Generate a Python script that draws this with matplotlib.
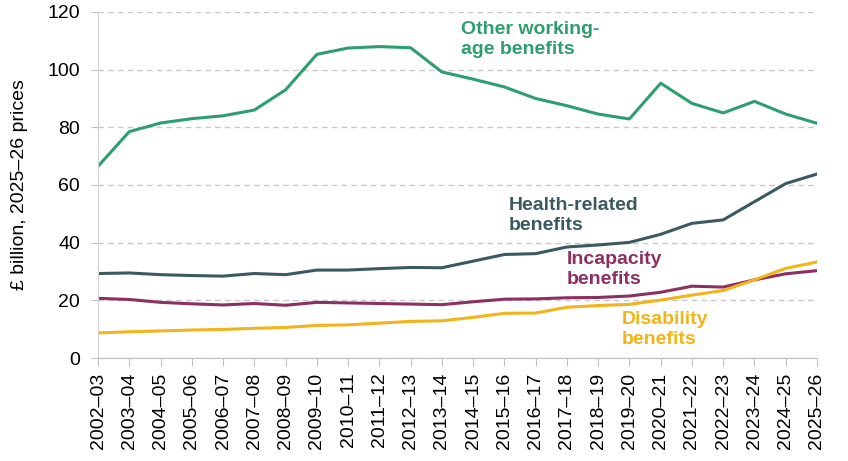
import numpy as np
import matplotlib.pyplot as plt

plt.rcParams['font.family'] = ['Liberation Sans', 'DejaVu Sans']

years = ['2002–03', '2003–04', '2004–05', '2005–06', '2006–07', '2007–08',
         '2008–09', '2009–10', '2010–11', '2011–12', '2012–13', '2013–14',
         '2014–15', '2015–16', '2016–17', '2017–18', '2018–19', '2019–20',
         '2020–21', '2021–22', '2022–23', '2023–24', '2024–25', '2025–26']

other = [66.5, 78.5, 81.5, 83, 84, 86, 93, 105.3, 107.5, 108, 107.6, 99.2,
         96.7, 94, 90, 87.5, 84.6, 82.9, 95.3, 88.3, 85, 89, 84.6, 81.4]
health = [29.3, 29.5, 28.9, 28.6, 28.4, 29.3, 28.9, 30.5, 30.5, 31, 31.4, 31.3,
          33.6, 35.9, 36.2, 38.5, 39.2, 40.1, 42.9, 46.7, 47.9, 54.2, 60.5, 63.8]
incapacity = [20.7, 20.3, 19.3, 18.8, 18.4, 18.9, 18.3, 19.3, 19.1, 18.9, 18.7, 18.5,
              19.5, 20.4, 20.5, 20.9, 21, 21.5, 22.8, 24.9, 24.6, 27.1, 29.2, 30.3]
disability = [8.7, 9.1, 9.4, 9.7, 9.9, 10.3, 10.6, 11.3, 11.5, 12.1, 12.7, 12.9,
              14.1, 15.5, 15.6, 17.6, 18.2, 18.6, 20.1, 21.8, 23.4, 27.1, 31.1, 33.3]

c_other = '#2e9e6f'
c_health = '#3b5960'
c_incap = '#8c2f61'
c_disab = '#f2b31b'

fig = plt.figure(figsize=(8.48, 4.61), dpi=100)
ax = fig.add_axes([0.1156, 0.2234, 0.8478, 0.7506])

x = np.arange(len(years))
ax.plot(x, other, color=c_other, lw=2.2)
ax.plot(x, health, color=c_health, lw=2.2)
ax.plot(x, incapacity, color=c_incap, lw=2.2)
ax.plot(x, disability, color=c_disab, lw=2.2)

ax.set_xlim(0, len(years) - 1)
ax.set_ylim(0, 120)
ax.set_yticks(range(0, 121, 20))
ax.set_xticks(x)
ax.set_xticklabels(years, rotation=90, fontsize=14)
ax.tick_params(axis='y', labelsize=14, length=5, color='#bfbfbf', pad=8)
ax.tick_params(axis='x', length=6, color='#bfbfbf', pad=4.5)
ax.yaxis.grid(True, linestyle=(0, (4, 3)), color='#c8c8c8', lw=1)
ax.set_axisbelow(True)
for s in ['top', 'right']:
    ax.spines[s].set_visible(False)
ax.spines['left'].set_color('#d0d0d0')
ax.spines['bottom'].set_color('#bfbfbf')
ax.set_ylabel('£ billion, 2025–26 prices', fontsize=14, labelpad=14)

kw = dict(fontsize=14, fontweight='bold', va='top', ha='left', linespacing=1.2)
ax.text(11.6, 116.8, 'Other working-\nage benefits', color=c_other, **kw)
ax.text(13.15, 55.8, 'Health-related\nbenefits', color=c_health, **kw)
ax.text(15.0, 37.0, 'Incapacity\nbenefits', color=c_incap, **kw)
ax.text(16.76, 16.2, 'Disability\nbenefits', color=c_disab, **kw)

fig.savefig('out.png', dpi=100)
